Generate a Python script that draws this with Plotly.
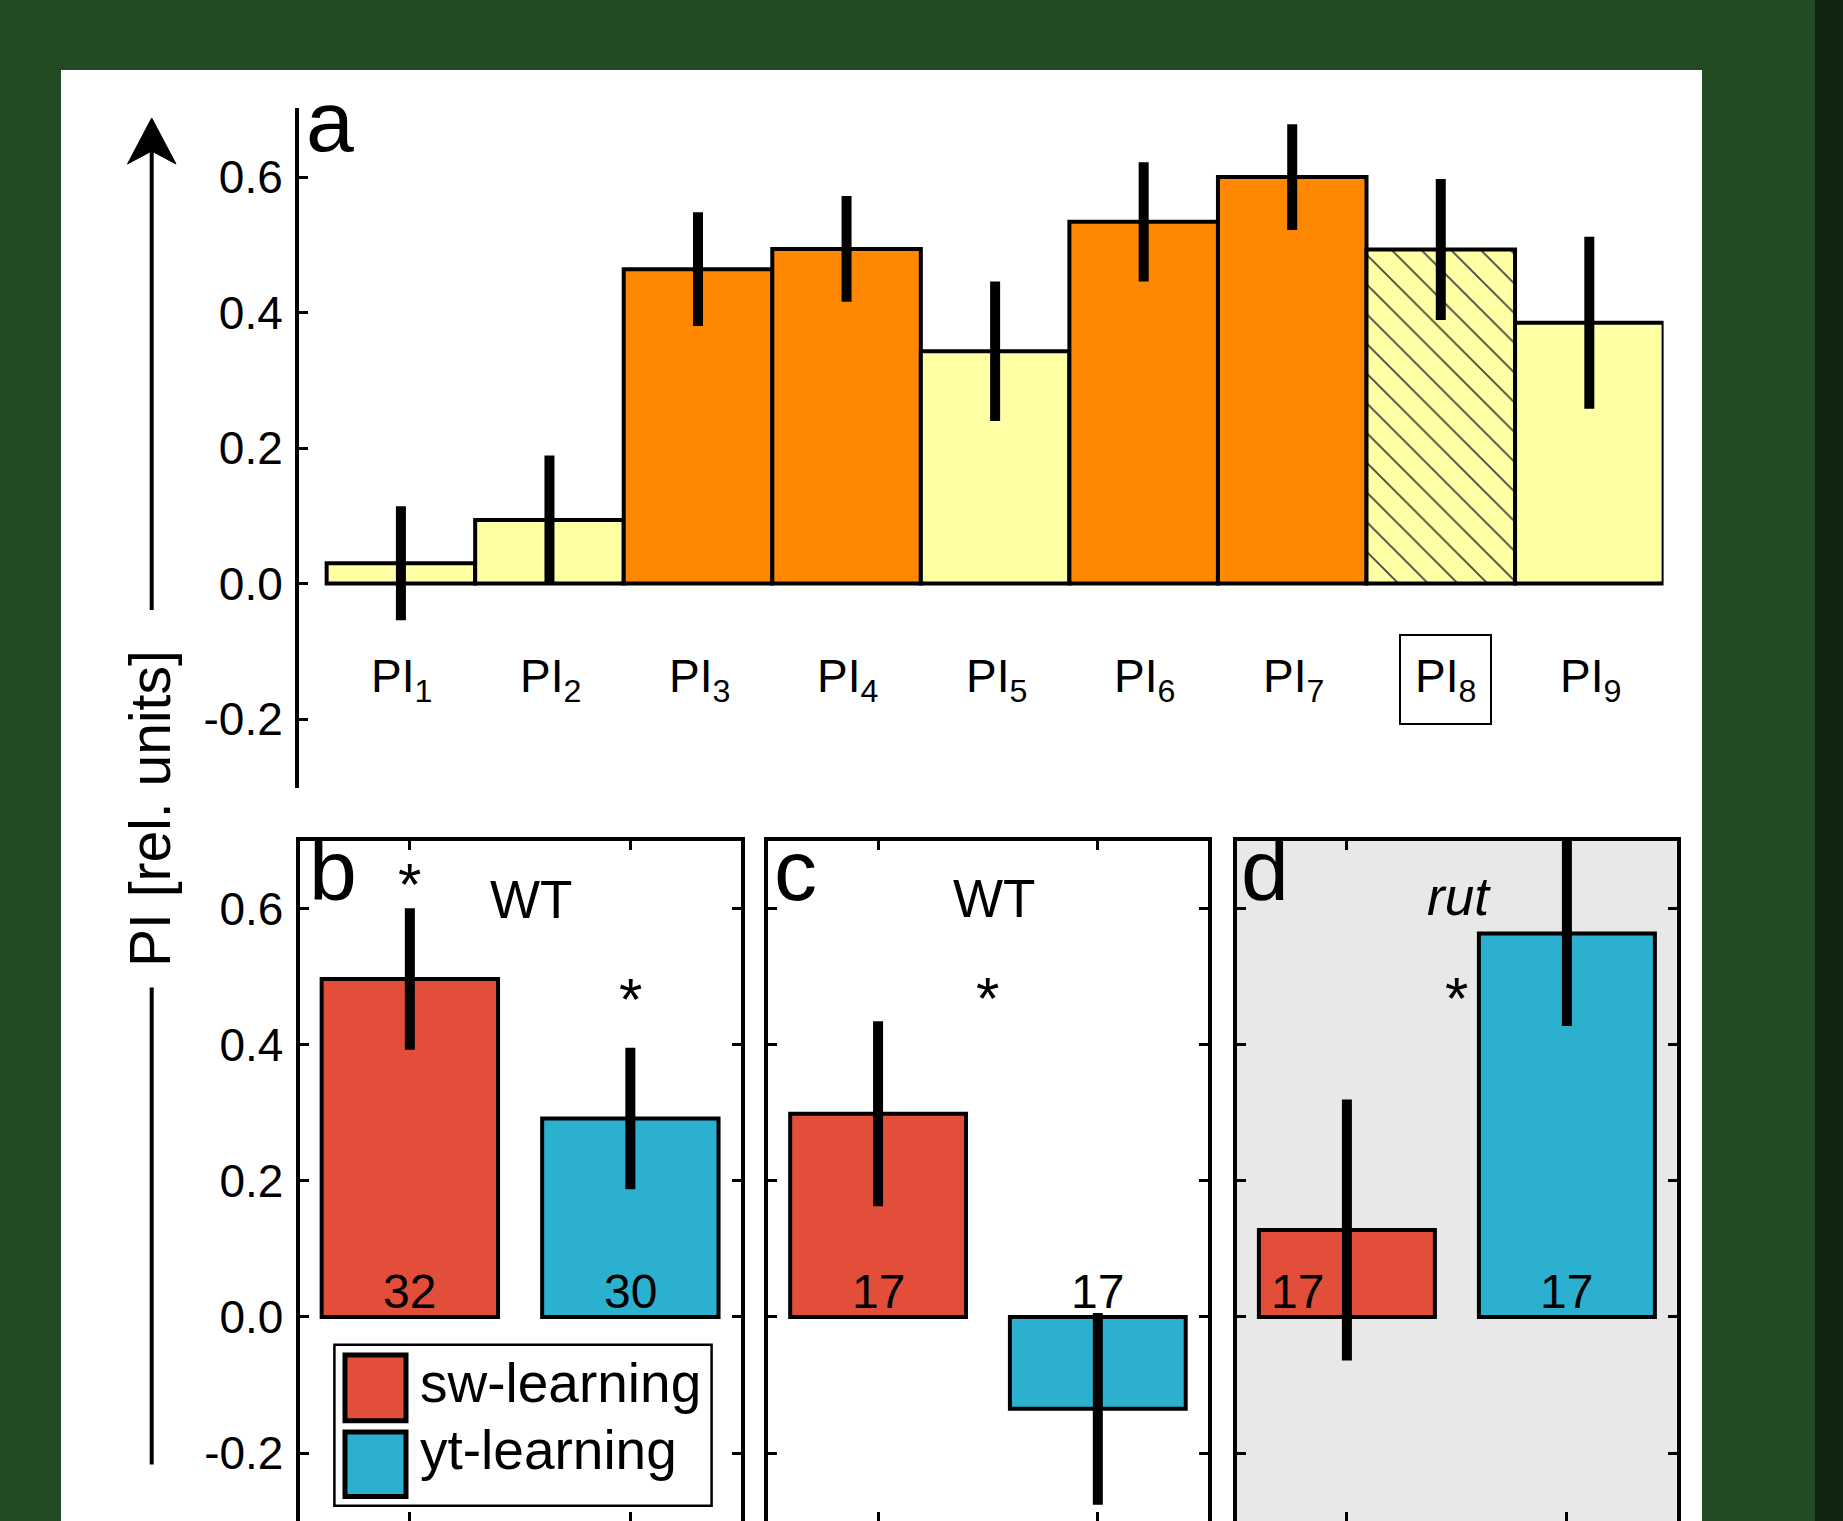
import plotly.graph_objects as go

# ---------------- data ----------------
a_labels = ["PI<sub>1</sub>", "PI<sub>2</sub>", "PI<sub>3</sub>", "PI<sub>4</sub>", "PI<sub>5</sub>",
            "PI<sub>6</sub>", "PI<sub>7</sub>", "PI<sub>8</sub>", "PI<sub>9</sub>"]
a_means = [0.030, 0.094, 0.464, 0.494, 0.343, 0.534, 0.600, 0.493, 0.385]
a_errs = [0.084, 0.095, 0.084, 0.078, 0.103, 0.088, 0.078, 0.104, 0.127]
a_period = ["test", "test", "train", "train", "test", "train", "train", "test", "test"]
a_boxed = "PI<sub>8</sub>"

groups = ["sw-learning", "yt-learning"]
b_means = [0.497, 0.292]
b_errs = [0.104, 0.104]
b_n = [32, 30]
c_means = [0.299, -0.135]
c_errs = [0.136, 0.141]
c_n = [17, 17]
d_means = [0.128, 0.564]
d_errs = [0.192, 0.136]
d_n = [17, 17]

y_tickvals = [-0.2, 0.0, 0.2, 0.4, 0.6]
y_ticktext = ["-0.2", "0.0", "0.2", "0.4", "0.6"]

# ---------------- styling ----------------
W, H = 1843, 1521
FONT = "Liberation Sans, Arial, Helvetica, sans-serif"
GREEN = "#234a23"
DARK = "#122412"
YELLOW = "#FFFFA3"
ORANGE = "#FF8800"
RED = "#E24E3A"
BLUE = "#2CB0D0"
GRAY = "#E8E8E8"
period_color = {"test": YELLOW, "train": ORANGE}
group_color = [RED, BLUE]

TICK_FS = 46
LETTER_FS = 86
TITLE_FS = 53
STAR_FS = 60
N_FS = 48
LEG_FS = 55
YT_FS = 57


def fx(x):
    return x / W


def fy(y):
    return 1 - y / H


fig = go.Figure()

# panel a
a_x = list(range(len(a_means)))
a_cols = [period_color[p] for p in a_period]
a_shapes = ["\\" if lab == a_boxed else "" for lab in a_labels]
fig.add_trace(go.Bar(
    x=a_x, y=a_means, width=1,
    marker=dict(color=a_cols, line=dict(color="black", width=4),
                pattern=dict(shape=a_shapes, fgcolor="#333333", fgopacity=1,
                             size=21, solidity=0.085, fillmode="overlay")),
    error_y=dict(type="data", array=a_errs, color="black", thickness=10, width=0),
    xaxis="x", yaxis="y", showlegend=False))

# panels b, c, d
for means, errs, xa, ya in [(b_means, b_errs, "x2", "y2"),
                            (c_means, c_errs, "x3", "y3"),
                            (d_means, d_errs, "x4", "y4")]:
    fig.add_trace(go.Bar(
        x=[1, 2], y=means, width=0.8,
        marker=dict(color=group_color, line=dict(color="black", width=4)),
        error_y=dict(type="data", array=errs, color="black", thickness=10, width=0),
        xaxis=xa, yaxis=ya, showlegend=False))

frame_common = dict(showline=True, linecolor="black", linewidth=4, mirror="ticks",
                    ticks="inside", ticklen=9, tickwidth=3, tickcolor="black",
                    showgrid=False, zeroline=False)
ydom_low = [0, fy(840.5)]
yrange_low = [-0.3, 0.7007]

layout = dict(
    width=W, height=H, margin=dict(l=0, r=0, t=0, b=0),
    paper_bgcolor=GREEN, plot_bgcolor="rgba(0,0,0,0)",
    font=dict(family=FONT, color="black"),
    xaxis=dict(domain=[fx(299), fx(1663.6)], range=[-0.686, 8.5], showline=False,
               showticklabels=False, ticks="", showgrid=False, zeroline=False, anchor="y"),
    yaxis=dict(domain=[fy(787.5), fy(107.7)], range=[-0.301, 0.7024], showline=True,
               linecolor="black", linewidth=4, ticks="inside", ticklen=9, tickwidth=3,
               tickcolor="black", tickvals=y_tickvals, ticktext=y_ticktext,
               tickfont=dict(size=TICK_FS, family=FONT), showgrid=False, zeroline=False,
               anchor="x", ticklabelstandoff=3),
    xaxis2=dict(domain=[fx(299.6), fx(740.6)], range=[0.5, 2.5], tickvals=[1, 2],
                showticklabels=False, anchor="y2", **frame_common),
    yaxis2=dict(domain=ydom_low, range=yrange_low, tickvals=y_tickvals, ticktext=y_ticktext,
                tickfont=dict(size=TICK_FS, family=FONT), anchor="x2", ticklabelstandoff=3,
                **frame_common),
    xaxis3=dict(domain=[fx(768.2), fx(1207.7)], range=[0.5, 2.5], tickvals=[1, 2],
                showticklabels=False, anchor="y3", **frame_common),
    yaxis3=dict(domain=ydom_low, range=yrange_low, tickvals=y_tickvals,
                showticklabels=False, anchor="x3", **frame_common),
    xaxis4=dict(domain=[fx(1236.9), fx(1676.9)], range=[0.5, 2.5], tickvals=[1, 2],
                showticklabels=False, anchor="y4", **frame_common),
    yaxis4=dict(domain=ydom_low, range=yrange_low, tickvals=y_tickvals,
                showticklabels=False, anchor="x4", **frame_common),
)
fig.update_layout(**layout)

shapes = []
# white panel and dark right strip
shapes.append(dict(type="rect", xref="paper", yref="paper", x0=fx(61), x1=fx(1702),
                   y0=-0.02, y1=fy(70), fillcolor="white", line=dict(width=0), layer="below"))
shapes.append(dict(type="rect", xref="paper", yref="paper", x0=fx(1815), x1=1.02,
                   y0=-0.02, y1=1.02, fillcolor=DARK, line=dict(width=0), layer="below"))
# gray background of panel d
shapes.append(dict(type="rect", xref="x4 domain", yref="y4 domain", x0=0, x1=1, y0=0, y1=1,
                   fillcolor=GRAY, line=dict(width=0), layer="below"))
# y-title arrow
ax_x = fx(151.7)
shapes.append(dict(type="line", xref="paper", yref="paper", x0=ax_x, x1=ax_x,
                   y0=fy(610), y1=fy(150), line=dict(color="black", width=4)))
shapes.append(dict(type="line", xref="paper", yref="paper", x0=ax_x, x1=ax_x,
                   y0=fy(1464.4), y1=fy(987.6), line=dict(color="black", width=4)))
head = "M {} {} L {} {} L {} {} L {} {} Z".format(
    fx(151.7), fy(118), fx(127.5), fy(164), fx(151.7), fy(151), fx(176), fy(164))
shapes.append(dict(type="path", xref="paper", yref="paper", path=head,
                   fillcolor="black", line=dict(color="black", width=1)))
# legend (manual)
shapes.append(dict(type="rect", xref="paper", yref="paper", x0=fx(334.4), x1=fx(711.6),
                   y0=fy(1505.7), y1=fy(1344.8), fillcolor="white",
                   line=dict(color="black", width=2.5)))
for i, (t0, t1) in enumerate([(1355, 1420.7), (1432, 1496.6)]):
    shapes.append(dict(type="rect", xref="paper", yref="paper", x0=fx(345), x1=fx(406),
                       y0=fy(t1), y1=fy(t0), fillcolor=group_color[i],
                       line=dict(color="black", width=5)))

annotations = []
# panel a category labels
for i, lab in enumerate(a_labels):
    boxed = lab == a_boxed
    annotations.append(dict(
        x=a_x[i], y=fy(679), xref="x", yref="paper", text=lab, showarrow=False,
        xanchor="center", yanchor="middle", font=dict(size=TICK_FS, family=FONT),
        xshift=5 if boxed else 1,
        bordercolor="black" if boxed else "rgba(0,0,0,0)", borderwidth=2 if boxed else 0,
        borderpad=14 if boxed else 0))

# panel letters (centre = baseline - 0.3465*F)
for txt, x, base in [("a", 304, 150.5), ("b", 307, 900.2), ("c", 772, 900), ("d", 1239, 900)]:
    annotations.append(dict(x=fx(x), y=fy(base - 0.3465 * LETTER_FS), xref="paper",
                            yref="paper", text=txt, showarrow=False, xanchor="left",
                            yanchor="middle", font=dict(size=LETTER_FS, family=FONT)))
# group titles
for txt, x, yc in [("WT", 530.8, 899), ("WT", 993.8, 898), ("<i>rut</i>", 1459, 915 - 0.3465 * TITLE_FS)]:
    annotations.append(dict(x=fx(x), y=fy(yc), xref="paper", yref="paper", text=txt,
                            showarrow=False, xanchor="center", yanchor="middle",
                            font=dict(size=TITLE_FS, family=FONT)))
# significance stars
for xa, ya, xv, yv in [("x2", "y2", 1, 0.636), ("x2", "y2", 2, 0.467),
                       ("x3", "y3", 1.5, 0.469), ("x4", "y4", 1.5, 0.469)]:
    annotations.append(dict(x=xv, y=yv, xref=xa, yref=ya, text="*", showarrow=False,
                            xanchor="center", yanchor="middle",
                            font=dict(size=STAR_FS, family=FONT)))
# n labels
for ns, xa, ya, shifts in [(b_n, "x2", "y2", [0, 0]), (c_n, "x3", "y3", [0, 0]),
                           (d_n, "x4", "y4", [-49, 0])]:
    for i, n in enumerate(ns):
        annotations.append(dict(x=i + 1, y=0, xref=xa, yref=ya, text=str(n), showarrow=False,
                                xanchor="center", yanchor="middle", yshift=25,
                                xshift=shifts[i], font=dict(size=N_FS, family=FONT)))
# legend texts
for i, base in enumerate([1402, 1469]):
    annotations.append(dict(x=fx(418), y=fy(base - 0.3465 * LEG_FS), xref="paper",
                            yref="paper", text=groups[i], showarrow=False, xanchor="left",
                            yanchor="middle", font=dict(size=LEG_FS, family=FONT)))
# y title
annotations.append(dict(x=fx(150), y=fy(809), xref="paper", yref="paper",
                        text="PI [rel. units]", textangle=-90, showarrow=False,
                        xanchor="center", yanchor="middle", font=dict(size=YT_FS, family=FONT)))

fig.update_layout(shapes=shapes, annotations=annotations)
fig.write_html("out.html", config={"displayModeBar": False},
               post_script="document.body.style.margin='0px';")
